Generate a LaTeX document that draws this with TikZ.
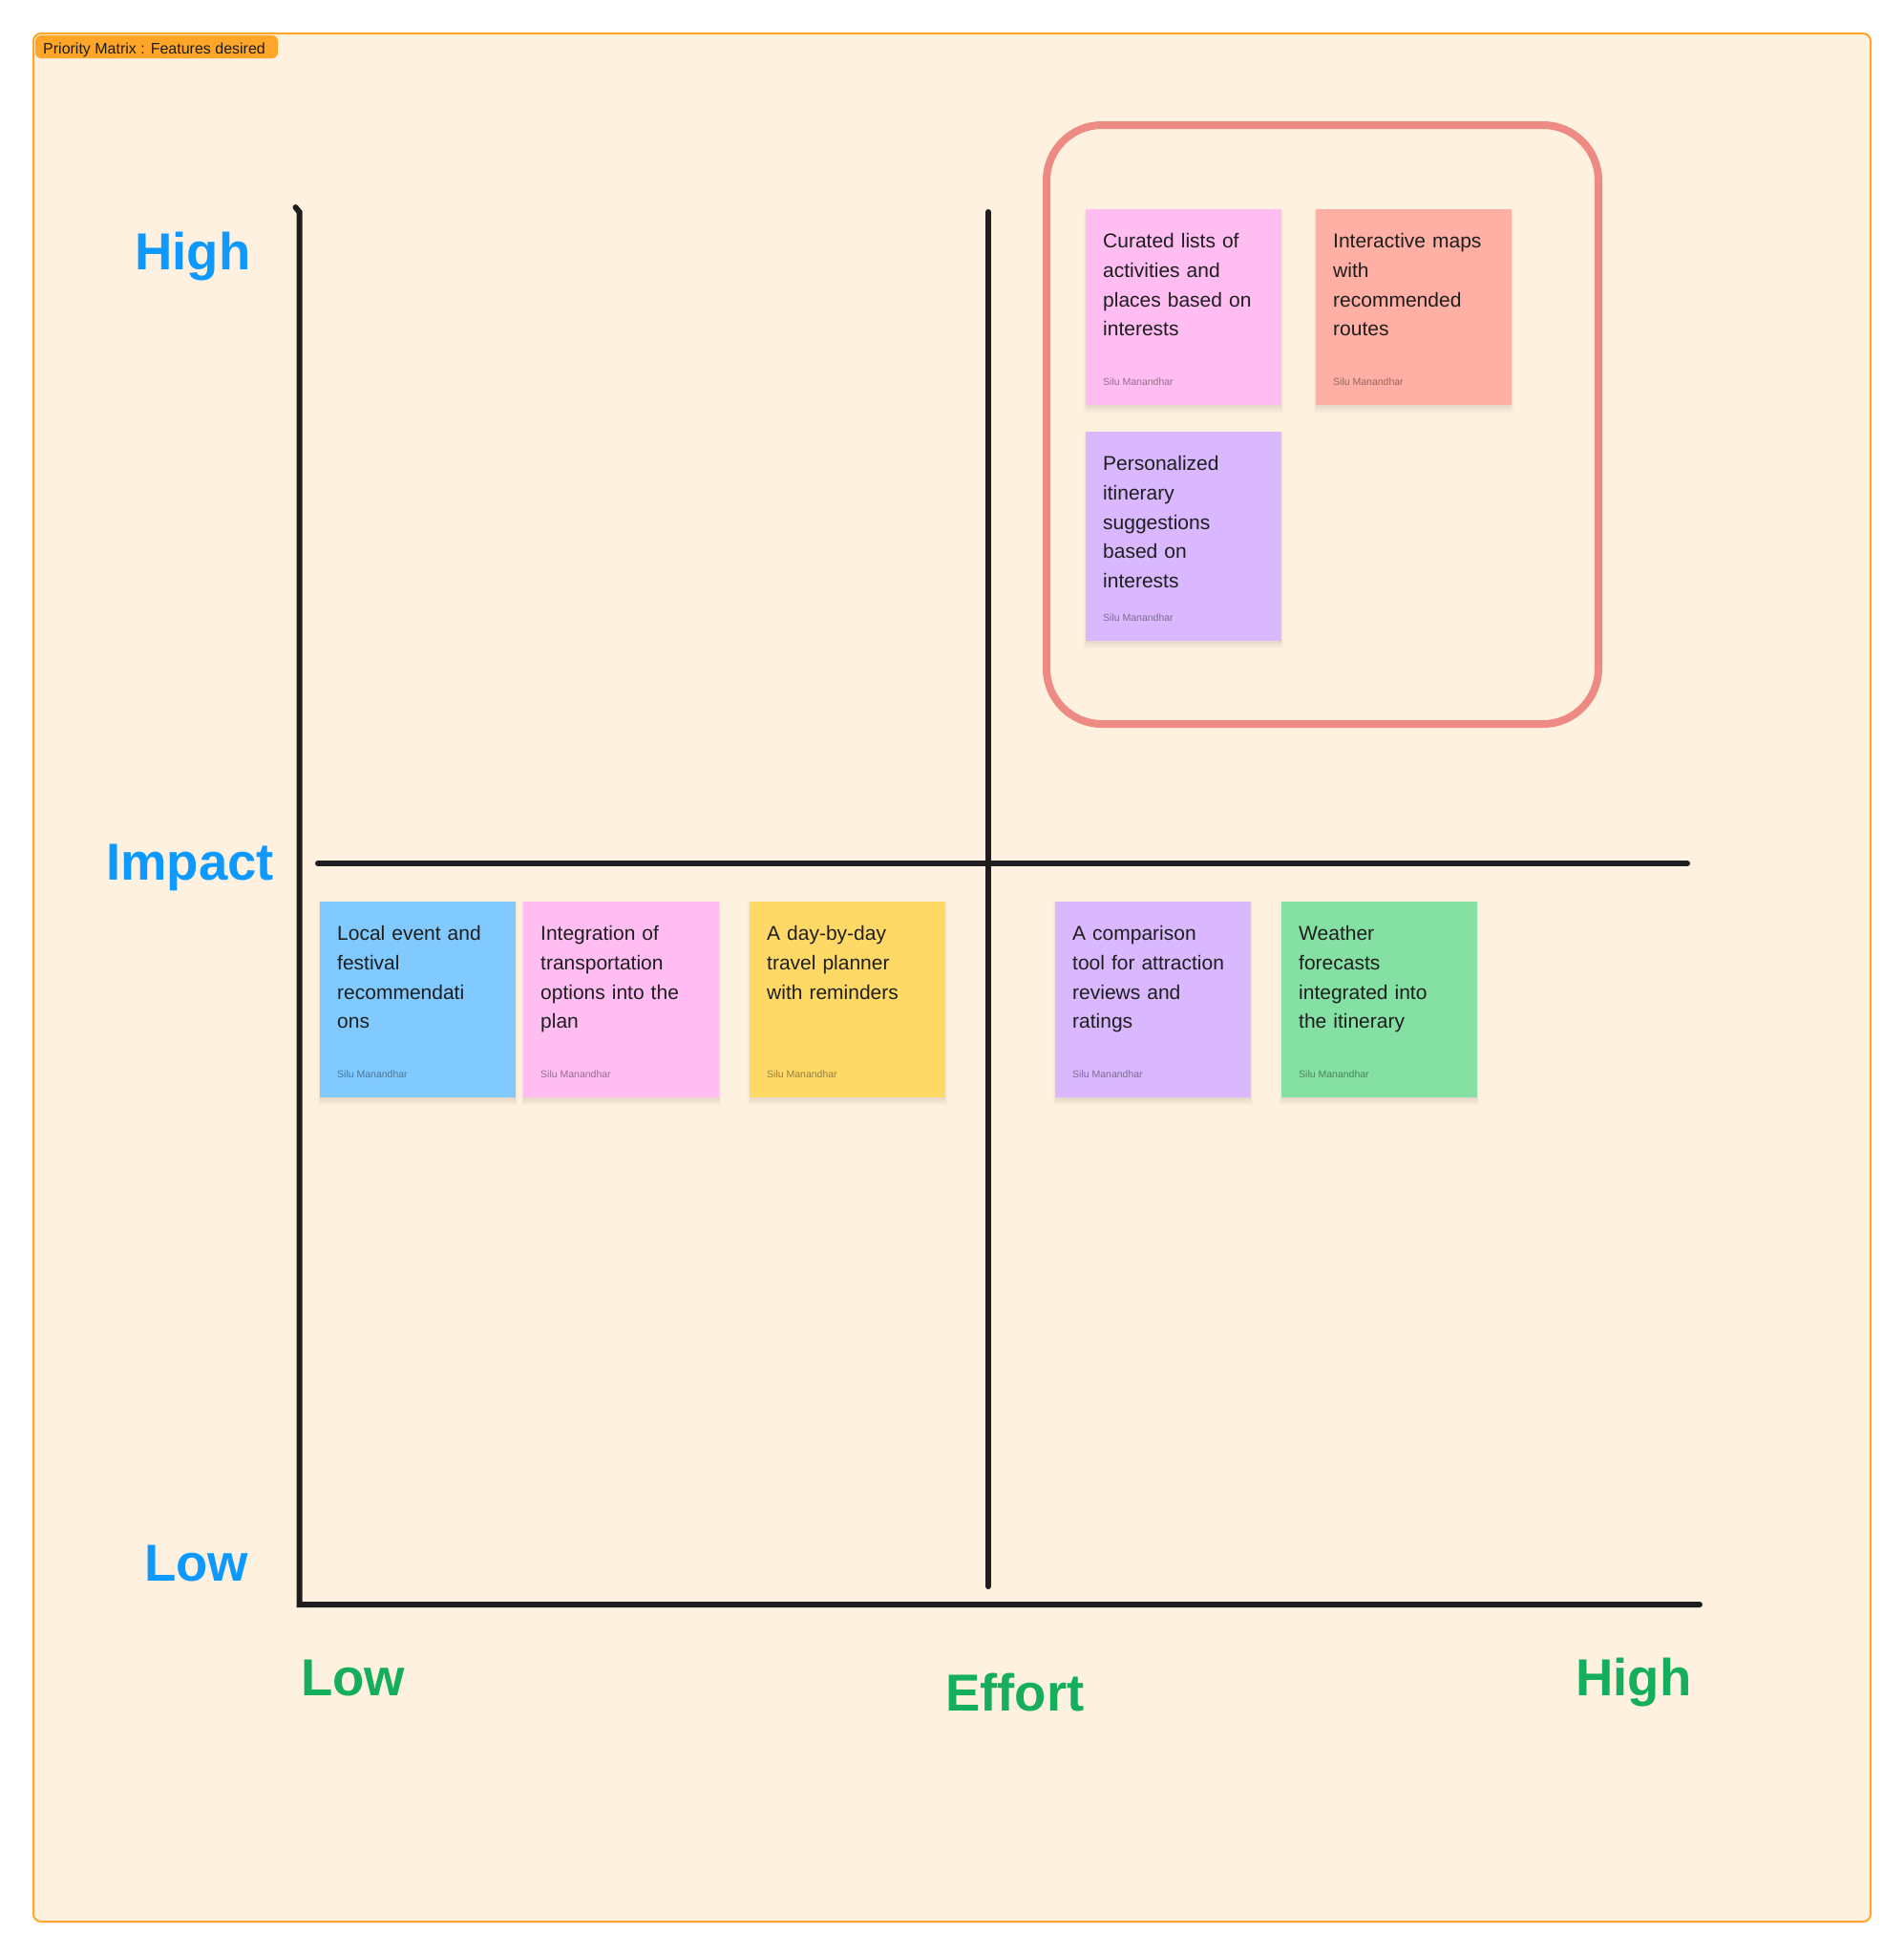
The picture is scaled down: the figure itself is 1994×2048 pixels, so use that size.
\documentclass[tikz,border=0pt]{standalone}
\usepackage{fontspec}
\setmainfont{Liberation Sans}
\definecolor{bgc}{HTML}{FFF1DF}
\definecolor{secorange}{HTML}{FFA629}
\definecolor{axisc}{HTML}{1E1E1E}
\definecolor{txtc}{HTML}{1E1E1E}
\definecolor{bluelab}{HTML}{0D99FF}
\definecolor{greenlab}{HTML}{14AE5C}
\definecolor{redbox}{HTML}{EE8A84}
\definecolor{stpink}{HTML}{FFBDF2}
\definecolor{stred}{HTML}{FFAFA3}
\definecolor{stviolet}{HTML}{D9B8FF}
\definecolor{stblue}{HTML}{80CAFF}
\definecolor{styellow}{HTML}{FFD966}
\definecolor{stgreen}{HTML}{85E0A3}
\begin{document}
\begin{tikzpicture}[x=1pt,y=-1pt,
  sticky/.style={rectangle, draw=none, inner sep=0pt, anchor=north west, minimum width=205pt, minimum height=205pt},
  stshadow/.style={fill=black, fill opacity=0.025, draw=none},
  stext/.style={anchor=north west, inner sep=0pt, text width=185pt, align=left, text=txtc, font=\fontsize{21}{30.7}\selectfont},
  author/.style={anchor=base west, inner sep=0pt, text=black, text opacity=0.42, font=\fontsize{10.5}{12}\selectfont},
  bluetxt/.style={anchor=base west, inner sep=0pt, text=bluelab, font=\fontsize{54.5}{60}\selectfont\bfseries},
  greentxt/.style={anchor=base west, inner sep=0pt, text=greenlab, font=\fontsize{54.5}{60}\selectfont\bfseries},
  axis/.style={draw=axisc, line width=6pt, line cap=round}
]
\useasboundingbox (0,0) rectangle (1994,2048);
\fill[white] (0,0) rectangle (1994,2048);
% section frame
\draw[secorange, line width=2pt, fill=bgc, rounded corners=8pt] (35,35) rectangle (1959,2012);
\fill[secorange, rounded corners=6pt] (37,37) rectangle (291,61);
\node[anchor=base west, inner sep=0pt, text=txtc, font=\fontsize{16}{18}\selectfont] (tag) at (45,56) {Priority Matrix : Features desired};

% axes
\coordinate (hook) at (309.5,217);
\coordinate (ytop) at (313.5,222);
\coordinate (origin) at (313.5,1680);
\coordinate (xend) at (1780,1680);
\coordinate (mvtop) at (1035,222);
\coordinate (mvbot) at (1035,1661);
\coordinate (mhl) at (333,904);
\coordinate (mhr) at (1767,904);
\draw[axis, line join=miter] (hook) -- (ytop) -- (origin) -- (xend);
\draw[axis] (mvtop) -- (mvbot);
\draw[axis] (mhl) -- (mhr);

% highlight box
\draw[redbox, line width=8pt, rounded corners=58pt] (1096,131) rectangle (1674,758);

% shadows
\foreach \x/\y/\h in {1137/219/205, 1378/219/205, 1137/452/219, 335/944/205, 548/944/205, 785/944/205, 1105/944/205, 1342/944/205}{
  \fill[stshadow] (\x-2,\y+1) rectangle (\x+207,\y+\h+8);
  \fill[stshadow] (\x-1,\y+1) rectangle (\x+206,\y+\h+6);
  \fill[stshadow] (\x,\y+1) rectangle (\x+205,\y+\h+4);
  \fill[stshadow] (\x,\y+1) rectangle (\x+205,\y+\h+2);
}

% stickies
\node[sticky, fill=stpink] (s1) at (1137,219) {};
\node[stext] (s1t) at ([xshift=18pt,yshift=-24.5pt]s1.north west) {\rule{0pt}{16pt}Curated lists of\\activities and\\places based on\\interests};
\node[author] (s1a) at ([xshift=18pt,yshift=20.5pt]s1.south west) {Silu Manandhar};

\node[sticky, fill=stred] (s2) at (1378,219) {};
\node[stext] (s2t) at ([xshift=18pt,yshift=-24.5pt]s2.north west) {\rule{0pt}{16pt}Interactive maps\\with\\recommended\\routes};
\node[author] (s2a) at ([xshift=18pt,yshift=20.5pt]s2.south west) {Silu Manandhar};

\node[sticky, fill=stviolet, minimum height=219pt] (s3) at (1137,452) {};
\node[stext] (s3t) at ([xshift=18pt,yshift=-24.5pt]s3.north west) {\rule{0pt}{16pt}Personalized\\itinerary\\suggestions\\based on\\interests};
\node[author] (s3a) at ([xshift=18pt,yshift=20.5pt]s3.south west) {Silu Manandhar};

\node[sticky, fill=stblue] (s4) at (335,944) {};
\node[stext] (s4t) at ([xshift=18pt,yshift=-24.5pt]s4.north west) {\rule{0pt}{16pt}Local event and\\festival\\recommendati\\ons};
\node[author] (s4a) at ([xshift=18pt,yshift=20.5pt]s4.south west) {Silu Manandhar};

\node[sticky, fill=stpink] (s5) at (548,944) {};
\node[stext] (s5t) at ([xshift=18pt,yshift=-24.5pt]s5.north west) {\rule{0pt}{16pt}Integration of\\transportation\\options into the\\plan};
\node[author] (s5a) at ([xshift=18pt,yshift=20.5pt]s5.south west) {Silu Manandhar};

\node[sticky, fill=styellow] (s6) at (785,944) {};
\node[stext] (s6t) at ([xshift=18pt,yshift=-24.5pt]s6.north west) {\rule{0pt}{16pt}A day-by-day\\travel planner\\with reminders};
\node[author] (s6a) at ([xshift=18pt,yshift=20.5pt]s6.south west) {Silu Manandhar};

\node[sticky, fill=stviolet] (s7) at (1105,944) {};
\node[stext] (s7t) at ([xshift=18pt,yshift=-24.5pt]s7.north west) {\rule{0pt}{16pt}A comparison\\tool for attraction\\reviews and\\ratings};
\node[author] (s7a) at ([xshift=18pt,yshift=20.5pt]s7.south west) {Silu Manandhar};

\node[sticky, fill=stgreen] (s8) at (1342,944) {};
\node[stext] (s8t) at ([xshift=18pt,yshift=-24.5pt]s8.north west) {\rule{0pt}{16pt}Weather\\forecasts\\integrated into\\the itinerary};
\node[author] (s8a) at ([xshift=18pt,yshift=20.5pt]s8.south west) {Silu Manandhar};

% axis labels
\node[bluetxt] (yhigh) at (141,282) {High};
\node[bluetxt] (ymid) at (111,921) {Impact};
\node[bluetxt] (ylow) at (151,1655) {Low};
\node[greentxt] (xlow) at (315,1775) {Low};
\node[greentxt] (xmid) at (990,1791) {Effort};
\node[greentxt] (xhigh) at (1650,1775) {High};
\end{tikzpicture}
\end{document}
